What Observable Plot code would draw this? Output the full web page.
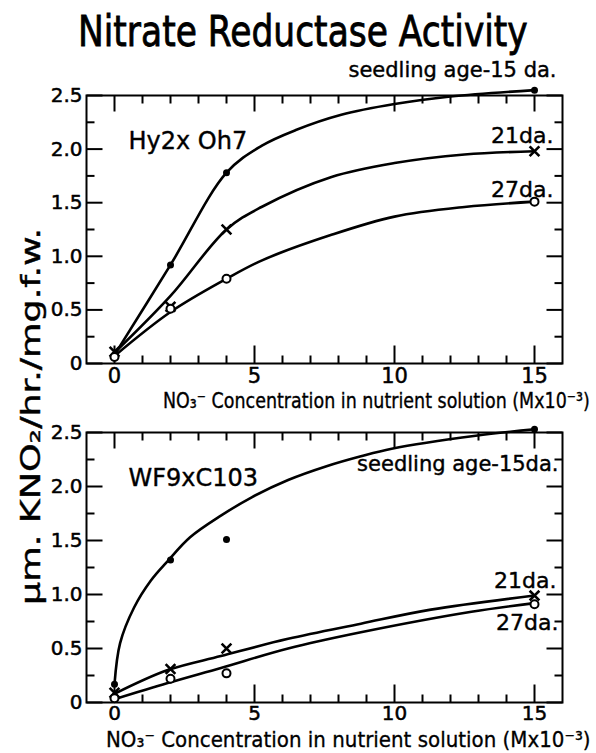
<!DOCTYPE html>
<html>
<head>
<meta charset="utf-8">
<script src="https://cdn.jsdelivr.net/npm/d3@7"></script>
<script src="https://cdn.jsdelivr.net/npm/@observablehq/plot@0.6"></script>
<style>
  body { margin: 0; background: #fff; }
  #wrap { position: relative; width: 596px; height: 753px; overflow: hidden; color: #000;
          font-family: "DejaVu Sans", sans-serif; }
  #wrap > svg { position: absolute; left: 0; top: 0; }
</style>
</head>
<body>
<div id="wrap"></div>
<script>
// ---------- data ----------
const conc = [0, 2, 4, 15];                       // NO3- concentration (M x 10^-3)

// Hy2xOh7 measured points
const hyAge15 = [0.08, 0.92, 1.78, 2.55];
const hyAge21 = [0.11, 0.53, 1.25, 1.98];
const hyAge27 = [0.06, 0.51, 0.79, 1.51];
// Hy2xOh7 drawn curves
const hyCurve15X = [0, 2, 4, 5.25, 6.5, 8.1, 10, 12, 15];
const hyCurve15Y = [0.08, 0.92, 1.78, 2.03, 2.18, 2.32, 2.42, 2.49, 2.55];
const hyCurve21X = [0, 2, 4, 5.25, 7.75, 10, 12.5, 15];
const hyCurve21Y = [0.1, 0.63, 1.25, 1.46, 1.74, 1.87, 1.95, 1.98];
const hyCurve27X = [0, 2, 4, 5.25, 7.75, 10, 12.5, 15];
const hyCurve27Y = [0.07, 0.48, 0.79, 0.96, 1.2, 1.37, 1.46, 1.51];

// WF9xC103 measured points
const wfAge15 = [0.17, 1.32, 1.51, 2.53];
const wfAge21 = [0.09, 0.31, 0.50, 0.99];
const wfAge27 = [0.04, 0.22, 0.27, 0.91];
// WF9xC103 drawn (fitted) curves
const wfCurve15X = [0, 0.2, 0.7, 1.3, 1.9, 2.7, 3.8, 4.9, 6.2, 7.6, 8.8, 9.9, 12.9, 15];
const wfCurve15Y = [0.17, 0.55, 0.88, 1.13, 1.31, 1.53, 1.73, 1.9, 2.06, 2.19, 2.28, 2.35, 2.47, 2.53];
const wfCurve21X = [0, 1.9, 3.8, 6.2, 8.8, 11.3, 15];
const wfCurve21Y = [0.08, 0.30, 0.43, 0.59, 0.73, 0.86, 0.99];
const wfCurve27X = [0, 1.9, 3.8, 6.2, 8.8, 12.75, 15];
const wfCurve27Y = [0.03, 0.18, 0.32, 0.50, 0.65, 0.84, 0.92];

// axes
const xDomain = [-1, 16];
const yDomain = [0, 2.5];
const yMajor = [0, 0.5, 1, 1.5, 2, 2.5];
const yMinor = [0.25, 0.75, 1.25, 1.75, 2.25];
const xMajor = [0, 5, 10, 15];
const xMinor = [1, 2, 3, 4, 6, 7, 8, 9, 11, 12, 13, 14];
const yTickLabel = d => d === 0 ? "0" : d.toFixed(1);

// text
const titleText = "Nitrate Reductase Activity";
const hyName = "Hy2x Oh7";
const wfName = "WF9xC103";
const xTitleTop = "NO₃⁻ Concentration in nutrient solution (Mx10⁻³)";
const xTitleBottom = "NO₃⁻ Concentration in nutrient  solution (Mx10⁻³)";
const yTitle = "μm. KNO₂/hr./mg.f.w.";

// ---------- chart ----------
const FONT = `"DejaVu Sans", sans-serif`;
const rows = (xs, ys) => xs.map((x, i) => ({x, y: ys[i]}));
const INNER_W = 596 - 86 - 34;
const NS = "http://www.w3.org/2000/svg";
const wrap = document.getElementById("wrap");

// title & axis titles
const ov = document.createElementNS(NS, "svg");
ov.setAttribute("width", 596);
ov.setAttribute("height", 753);
ov.setAttribute("font-family", FONT);
wrap.appendChild(ov);

function fitText(str, {x, y, width, size, rotate = 0, sw = 0.3}) {
  const t = document.createElementNS(NS, "text");
  t.textContent = str;
  t.setAttribute("font-size", size);
  t.setAttribute("fill", "black");
  t.setAttribute("stroke", "black");
  t.setAttribute("stroke-width", sw);
  ov.appendChild(t);
  const w = t.getComputedTextLength();
  const rot = rotate ? ` rotate(${rotate})` : "";
  if (w > width) {
    const f = size * width / w;
    t.setAttribute("font-size", f);
    t.setAttribute("transform", `translate(${x},${y})${rot} scale(1,${size / f})`);
  } else {
    t.setAttribute("textLength", width);
    t.setAttribute("lengthAdjust", "spacingAndGlyphs");
    t.setAttribute("transform", `translate(${x},${y})${rot}`);
  }
}
fitText(titleText, {x: 78, y: 46, width: 450, size: 42, sw: 0.7});
fitText(xTitleTop, {x: 163, y: 408, width: 427, size: 21});
fitText(xTitleBottom, {x: 106, y: 747, width: 485, size: 22});
fitText(yTitle, {x: 40, y: 605, width: 377, size: 26, rotate: -90, sw: 0.4});

function panel({c15, c21, c27, p15, p21, p27, name, lab15, lab21, lab27, mt, mb, ih, tickPad, tickFont, top}) {
  const last = a => [a[a.length - 1]];
  // tick length in pixels converted to data units of this panel's scales
  const ux = (xDomain[1] - xDomain[0]) / INNER_W;
  const uy = (yDomain[1] - yDomain[0]) / ih;
  // inward tick segments: each tick is a two-point line, grouped by k
  const segY = (vals, atX, dir, px) => vals.flatMap(v => [
    {x: atX, y: v, k: v}, {x: atX + dir * px * ux, y: v, k: v}]);
  const segX = (vals, atY, dir, px) => vals.flatMap(v => [
    {x: v, y: atY, k: v}, {x: v, y: atY + dir * px * uy, k: v}]);
  const tickLine = d => Plot.line(d, {x: "x", y: "y", z: "k", strokeWidth: 2, strokeLinecap: "butt"});
  const txt = {fill: "black", stroke: "black", strokeWidth: 0.4};

  const svg = Plot.plot({
    width: 596, height: mt + ih + mb,
    marginTop: mt, marginBottom: mb, marginLeft: 86, marginRight: 34,
    x: {domain: xDomain},
    y: {domain: yDomain},
    style: {fontFamily: FONT, fontSize: "20px", color: "#000", background: "transparent", overflow: "visible"},
    marks: [
      // ticks on all four sides, pointing inward
      tickLine(segY(yMajor, xDomain[0], +1, 16)),
      tickLine(segY(yMinor, xDomain[0], +1, 8)),
      tickLine(segY(yMajor, xDomain[1], -1, 16)),
      tickLine(segY(yMinor, xDomain[1], -1, 8)),
      tickLine(segX(xMajor, yDomain[0], +1, 18)),
      tickLine(segX(xMinor, yDomain[0], +1, 8)),
      tickLine(segX(xMajor, yDomain[1], -1, 16)),
      tickLine(segX(xMinor, yDomain[1], -1, 8)),
      // tick labels
      Plot.axisY(yMajor, {anchor: "left", tickSize: 0, tickPadding: 4, tickFormat: yTickLabel, label: null,
                          fontSize: 20, textStroke: "black", textStrokeWidth: 0.5}),
      Plot.axisX(xMajor, {anchor: "bottom", tickSize: 0, tickPadding: tickPad, label: null,
                          fontSize: tickFont, textStroke: "black", textStrokeWidth: 0.5}),
      Plot.frame({strokeWidth: 2}),
      // curves
      Plot.line(c15, {x: "x", y: "y", curve: "catmull-rom", strokeWidth: 2.6}),
      Plot.line(c21, {x: "x", y: "y", curve: "catmull-rom", strokeWidth: 2.6}),
      Plot.line(c27, {x: "x", y: "y", curve: "catmull-rom", strokeWidth: 2.6}),
      // points
      Plot.dot(p15, {x: "x", y: "y", r: 3.5, fill: "black"}),
      Plot.dot(p21, {x: "x", y: "y", symbol: "times", r: 4.5, stroke: "black", strokeWidth: 2.6}),
      Plot.dot(p27, {x: "x", y: "y", r: 4, stroke: "black", fill: "white", strokeWidth: 2}),
      // annotations
      Plot.text([name], {frameAnchor: "top-left", text: d => d, textAnchor: "start", lineAnchor: "bottom", dx: 42, dy: 53, fontSize: 24, ...txt}),
      Plot.text(last(p15), {x: "x", y: "y", text: () => lab15.t, textAnchor: "end", lineAnchor: "bottom", dx: lab15.dx, dy: lab15.dy, fontSize: 21, ...txt}),
      Plot.text(last(p21), {x: "x", y: "y", text: () => lab21.t, textAnchor: "end", lineAnchor: "bottom", dx: lab21.dx, dy: lab21.dy, fontSize: 22, ...txt}),
      Plot.text(last(p27), {x: "x", y: "y", text: () => lab27.t, textAnchor: "end", lineAnchor: "bottom", dx: lab27.dx, dy: lab27.dy, fontSize: 22, ...txt})
    ]
  });
  svg.style.position = "absolute";
  svg.style.left = "0px";
  svg.style.top = top + "px";
  svg.style.background = "transparent";
  wrap.appendChild(svg);
}

panel({
  c15: rows(hyCurve15X, hyCurve15Y), c21: rows(hyCurve21X, hyCurve21Y), c27: rows(hyCurve27X, hyCurve27Y),
  p15: rows(conc, hyAge15), p21: rows(conc, hyAge21), p27: rows(conc, hyAge27),
  name: hyName,
  lab15: {t: "seedling age-15 da.", dx: 22, dy: -13},
  lab21: {t: "21da.", dx: 19, dy: -8},
  lab27: {t: "27da.", dx: 19, dy: -5},
  mt: 39, mb: 34, ih: 268, tickPad: 5, tickFont: 21, top: 56
});

panel({
  c15: rows(wfCurve15X, wfCurve15Y), c21: rows(wfCurve21X, wfCurve21Y), c27: rows(wfCurve27X, wfCurve27Y),
  p15: rows(conc, wfAge15), p21: rows(conc, wfAge21), p27: rows(conc, wfAge27),
  name: wfName,
  lab15: {t: "seedling age-15da.", dx: 24, dy: 42},
  lab21: {t: "21da.", dx: 22, dy: -8},
  lab27: {t: "27da.", dx: 24, dy: 26},
  mt: 16, mb: 30, ih: 270, tickPad: 3, tickFont: 20, top: 416
});
</script>
</body>
</html>
